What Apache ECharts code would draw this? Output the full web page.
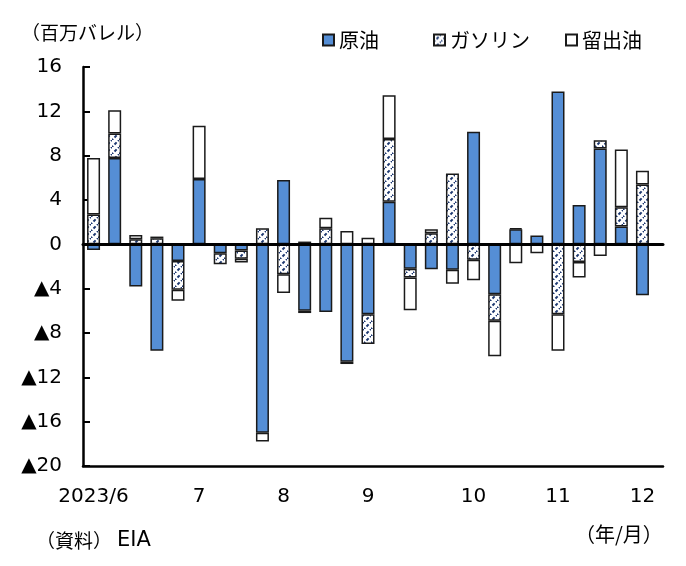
<!DOCTYPE html>
<html>
<head>
<meta charset="utf-8">
<script src="https://cdn.jsdelivr.net/npm/echarts@6/dist/echarts.min.js"></script>
<style>
  html, body { margin: 0; padding: 0; background: #fff; }
  #chart { width: 686px; height: 566px; }
</style>
</head>
<body>
<div id="chart"></div>
<script>
// Weekly US inventory changes (million barrels), week ending dates
const weeks = [
  '2023/6/2', '2023/6/9', '2023/6/16', '2023/6/23', '2023/6/30',
  '2023/7/7', '2023/7/14', '2023/7/21', '2023/7/28',
  '2023/8/4', '2023/8/11', '2023/8/18', '2023/8/25',
  '2023/9/1', '2023/9/8', '2023/9/15', '2023/9/22', '2023/9/29',
  '2023/10/6', '2023/10/13', '2023/10/20', '2023/10/27',
  '2023/11/3', '2023/11/10', '2023/11/17', '2023/11/24',
  '2023/12/1'
];

// Axis labels shown under each week (blank = no label)
const tickLabels = [
  '2023/6', '', '', '', '',
  '7', '', '', '',
  '8', '', '', '',
  '9', '', '', '', '',
  '10', '', '', '',
  '11', '', '', '',
  '12'
];

const crude = [
  -0.5, 7.8, -3.8, -9.6, -1.5,
  5.9, -0.8, -0.55, -17.0,
  5.8, -6.0, -6.1, -10.6,
  -6.3, 3.85, -2.2, -2.25, -2.3,
  10.15, -4.5, 1.35, 0.8,
  13.8, 3.55, 8.65, 1.6,
  -4.6
];

const gasoline = [
  2.7, 2.2, 0.45, 0.55, -2.6,
  0, -1.0, -0.75, 1.45,
  -2.7, -0.2, 1.45, -0.2,
  -2.7, 5.65, -0.8, 1.0, 6.4,
  -1.4, -2.4, 0.1, 0,
  -6.3, -1.6, 0.75, 1.75,
  5.4
];

const distillate = [
  5.1, 2.1, 0.4, 0.15, -1.0,
  4.8, 0, -0.35, -0.8,
  -1.7, 0.25, 0.95, 1.2,
  0.6, 3.95, -2.95, 0.35, -1.25,
  -1.85, -3.2, -1.7, -0.8,
  -3.3, -1.4, -1.05, 5.2,
  1.25
];

const yTicks = { min: -20, max: 16, step: 4 };

// Diagonal dashed hatch tile for the gasoline bars
function makeHatch() {
  const s = 7;
  const c = document.createElement('canvas');
  c.width = s; c.height = s;
  const g = c.getContext('2d');
  g.fillStyle = '#ffffff';
  g.fillRect(0, 0, s, s);
  g.strokeStyle = '#1c3770';
  g.lineWidth = 2;
  g.setLineDash([3, 1.95]);
  g.beginPath();
  g.moveTo(-1, s + 1);
  g.lineTo(s + 1, -1);
  g.stroke();
  return c;
}

const hatch = { image: makeHatch(), repeat: 'repeat' };
// Weeks with no change are left empty so no zero-height box is drawn
const noZero = arr => arr.map(v => (v === 0 ? '-' : v));

const numFont = "'DejaVu Sans', 'Noto Sans CJK JP', sans-serif";
const jpFont = "'Noto Sans CJK JP', 'DejaVu Sans', sans-serif";

const barBorder = { borderColor: '#1a1a1a', borderWidth: 1.5 };

const chart = echarts.init(document.getElementById('chart'), null, { renderer: 'canvas' });

const legendBase = {
  orient: 'horizontal',
  top: 25,
  icon: 'rect',
  itemWidth: 11,
  itemHeight: 11,
  itemGap: 0,
  selectedMode: false,
  textStyle: { fontFamily: jpFont, fontSize: 20, color: '#000' }
};

// Bars sit in grid 0; grid 1 is slightly wider and carries the frame lines
const plotTop = 67, plotBottom = 100, plotLeft = 83;

chart.setOption({
  animation: false,
  backgroundColor: '#ffffff',
  title: [
    { text: '（百万バレル）', left: 16, top: 18,
      textStyle: { fontFamily: jpFont, fontSize: 19, fontWeight: 'normal', color: '#000' } },
    { text: '（年/月）', left: 570, top: 519,
      textStyle: { fontFamily: jpFont, fontSize: 20, fontWeight: 'normal', color: '#000' } },
    { text: '{a|（資料）}{b|EIA}', left: 31, top: 525,
      textStyle: {
        fontWeight: 'normal',
        rich: {
          a: { fontFamily: jpFont, fontSize: 19, fontWeight: 'normal', color: '#000' },
          b: { fontFamily: numFont, fontSize: 21, fontWeight: 'normal', color: '#000', padding: [0, 0, 0, 5] }
        }
      } }
  ],
  legend: [
    Object.assign({}, legendBase, { left: 317, data: ['原油'] }),
    Object.assign({}, legendBase, { left: 428, data: ['ガソリン'] }),
    Object.assign({}, legendBase, { left: 560, data: ['留出油'] })
  ],
  grid: [
    { left: plotLeft, right: 33, top: plotTop, bottom: plotBottom, containLabel: false },
    { left: plotLeft, right: 23, top: plotTop, bottom: plotBottom, containLabel: false }
  ],
  xAxis: [
    {
      gridIndex: 0,
      type: 'category',
      data: weeks,
      boundaryGap: true,
      axisLine: { show: false },
      axisTick: { show: false },
      axisLabel: {
        interval: 0,
        margin: 21,
        fontFamily: numFont,
        fontSize: 20,
        color: '#000',
        formatter: (v, i) => tickLabels[i]
      },
      splitLine: { show: false }
    },
    {
      // bottom frame line
      gridIndex: 1,
      type: 'value',
      min: 0, max: 1,
      position: 'bottom',
      axisLine: { show: true, onZero: false, lineStyle: { color: '#000', width: 2.5 } },
      axisTick: { show: false },
      axisLabel: { show: false },
      splitLine: { show: false }
    },
    {
      // zero line
      gridIndex: 1,
      type: 'value',
      min: 0, max: 1,
      position: 'bottom',
      z: 5,
      axisLine: { show: true, onZero: true, lineStyle: { color: '#000', width: 3 } },
      axisTick: { show: false },
      axisLabel: { show: false },
      splitLine: { show: false }
    }
  ],
  yAxis: [
    {
      gridIndex: 0,
      type: 'value',
      min: yTicks.min,
      max: yTicks.max,
      interval: yTicks.step,
      axisLine: { show: true, lineStyle: { color: '#000', width: 2.5 } },
      axisTick: { show: true, inside: true, length: 7, lineStyle: { color: '#000', width: 2 } },
      axisLabel: {
        margin: 21,
        fontFamily: numFont,
        fontSize: 20,
        color: '#000',
        formatter: v => (v < 0 ? '▲' + (-v) : String(v))
      },
      splitLine: { show: false }
    },
    {
      gridIndex: 1,
      type: 'value',
      min: yTicks.min,
      max: yTicks.max,
      interval: yTicks.step,
      axisLine: { show: false },
      axisTick: { show: false },
      axisLabel: { show: false },
      splitLine: { show: false }
    }
  ],
  series: [
    {
      name: '原油',
      type: 'bar',
      stack: 'stock',
      barWidth: 13,
      data: noZero(crude),
      itemStyle: Object.assign({ color: '#558ed5' }, barBorder)
    },
    {
      name: 'ガソリン',
      type: 'bar',
      stack: 'stock',
      barWidth: 13,
      data: noZero(gasoline),
      itemStyle: Object.assign({ color: hatch }, barBorder)
    },
    {
      name: '留出油',
      type: 'bar',
      stack: 'stock',
      barWidth: 13,
      data: noZero(distillate),
      itemStyle: Object.assign({ color: '#ffffff' }, barBorder)
    }
  ]
});
</script>
</body>
</html>
